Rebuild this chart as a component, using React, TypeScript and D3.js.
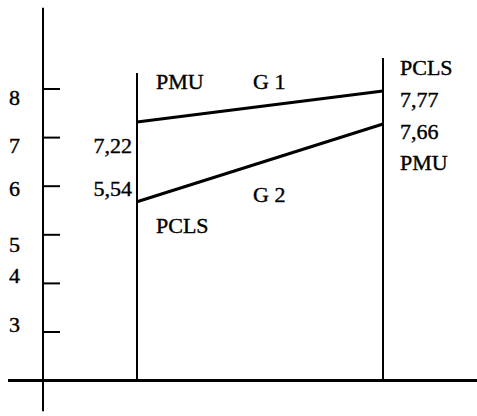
import React from "react";
import * as d3 from "d3";

// ---- data ----
const periods = ["T1", "T2"];
const g1Values = [7.32, 7.96]; // plotted positions of G 1
const g2Values = [5.68, 7.28]; // plotted positions of G 2
const g1Labels = ["7,22", "7,77"];
const g2Labels = ["5,54", "7,66"];
const yTicks = [8, 7, 6, 5, 4, 3];
const yTickLabels = ["8", "7", "6", "5", "4", "3"];
const seriesNames = ["G 1", "G 2"];
const leftGroupLabels = ["PMU", "PCLS"];
const rightGroupLabels = ["PCLS", "PMU"];

// ---- layout ----
const W = 477;
const H = 416;
const labelDy = [16, 15, 10, 17, 0, 0];

export default function App() {
  const y = d3.scaleLinear().domain([3, 8]).range([332, 89]);
  const x = d3.scalePoint<string>().domain(periods).range([137, 383]);
  const axisX = 43;
  const font = "'Liberation Serif', 'Times New Roman', serif";
  const fs = 22;
  const line = d3
    .line<number>()
    .x((_, i) => x(periods[i]) as number)
    .y((d) => y(d));
  const xl = x(periods[0]) as number;
  const xr = x(periods[1]) as number;
  const vTops = [8.33, 8.64];

  return (
    <svg
      width={W}
      height={H}
      style={{ position: "absolute", left: 0, top: 0, background: "#fff" }}
      fontFamily={font}
      fontSize={fs}
    >
      {/* y axis */}
      <line x1={axisX} x2={axisX} y1={y(9.67)} y2={y(1.37)} stroke="#000" strokeWidth={2} />
      {yTicks.map((t, i) => (
        <g key={t}>
          <line x1={axisX} x2={axisX + 17} y1={y(t)} y2={y(t)} stroke="#000" strokeWidth={2} />
          <text x={9} y={y(t) + labelDy[i]} fill="#000" stroke="#000" strokeWidth={0.4}>
            {yTickLabels[i]}
          </text>
        </g>
      ))}
      {/* horizontal axis */}
      <line x1={8} x2={W} y1={y(2)} y2={y(2)} stroke="#000" strokeWidth={3} />
      {/* vertical period lines */}
      {periods.map((p, i) => (
        <line
          key={p}
          x1={x(p)}
          x2={x(p)}
          y1={y(vTops[i])}
          y2={y(2)}
          stroke="#000"
          strokeWidth={2}
        />
      ))}
      {/* series lines */}
      <path d={line(g1Values) || ""} fill="none" stroke="#000" strokeWidth={3} />
      <path d={line(g2Values) || ""} fill="none" stroke="#000" strokeWidth={3} />

      <g fill="#000" stroke="#000" strokeWidth={0.4}>
        {/* left value labels */}
        <text x={xl - 5} y={y(g1Values[0]) + 31} textAnchor="end">{g1Labels[0]}</text>
        <text x={xl - 5} y={y(g2Values[0]) - 6} textAnchor="end">{g2Labels[0]}</text>
        {/* left group labels */}
        <text x={xl + 19} y={89}>{leftGroupLabels[0]}</text>
        <text x={xl + 19} y={233}>{leftGroupLabels[1]}</text>
        {/* series names */}
        <text x={253} y={89}>{seriesNames[0]}</text>
        <text x={253} y={202}>{seriesNames[1]}</text>
        {/* right labels */}
        <text x={xr + 17} y={75}>{rightGroupLabels[0]}</text>
        <text x={xr + 17} y={y(g1Values[1]) + 16}>{g1Labels[1]}</text>
        <text x={xr + 17} y={y(g2Values[1]) + 15}>{g2Labels[1]}</text>
        <text x={xr + 17} y={170}>{rightGroupLabels[1]}</text>
      </g>
    </svg>
  );
}
